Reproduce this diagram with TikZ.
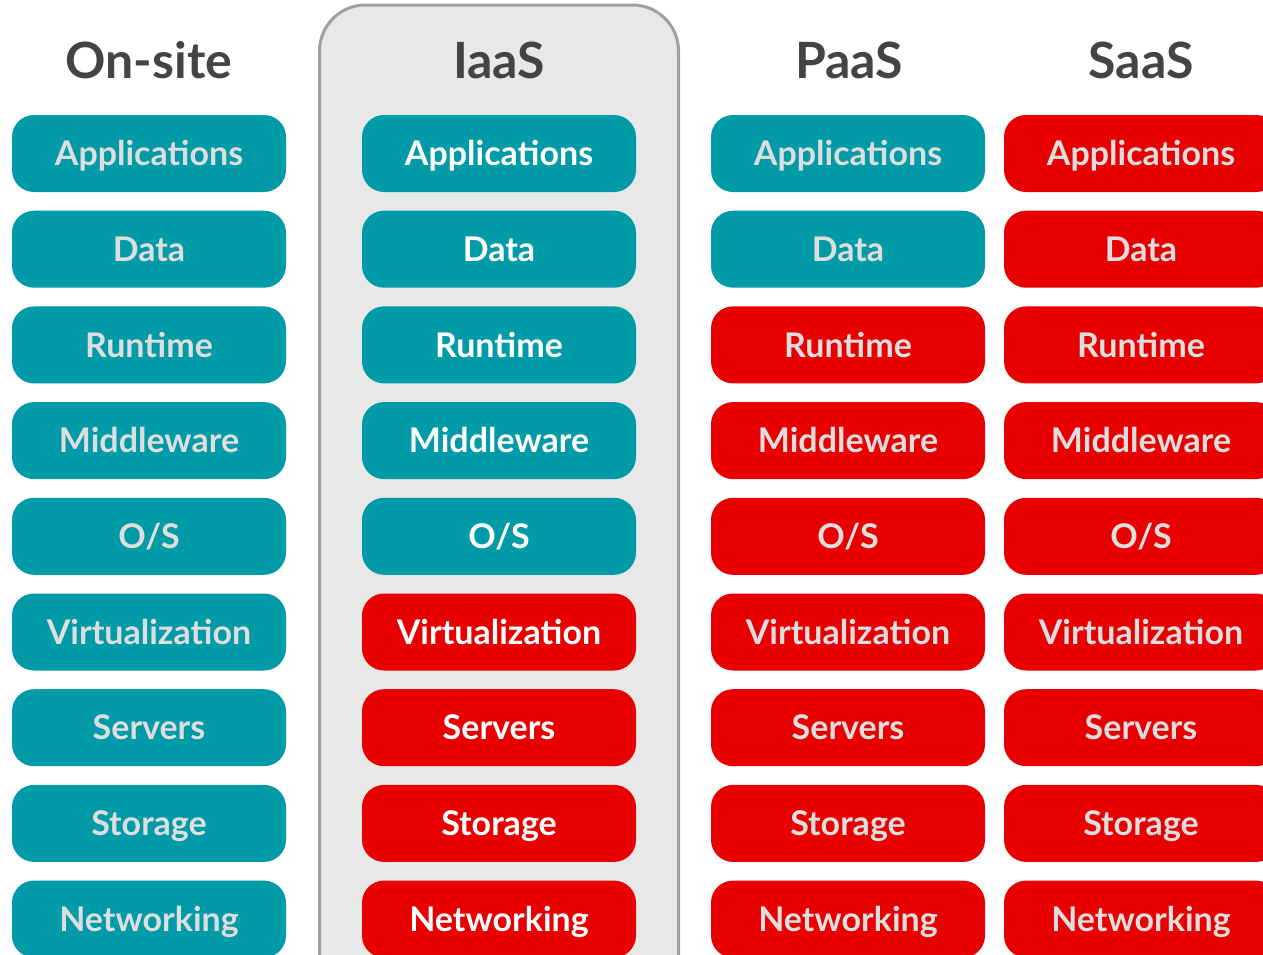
\documentclass[tikz,border=0pt]{standalone}
\usepackage{fontspec}
\setmainfont{Lato}
\definecolor{tealbox}{RGB}{0,155,166}
\definecolor{redbox}{RGB}{232,0,0}
\definecolor{dimtext}{RGB}{222,222,222}
\definecolor{headtext}{RGB}{68,68,68}
\definecolor{panelfill}{RGB}{232,232,232}
\definecolor{panelline}{RGB}{160,160,160}
\tikzset{
  layerbox/.style={rounded corners=22pt, minimum width=274pt, minimum height=77pt,
    inner sep=0pt, font=\fontsize{34}{34}\selectfont\bfseries, text height=24.5pt, text depth=0pt},
  tealfill/.style={layerbox, fill=tealbox},
  redfill/.style={layerbox, fill=redbox},
  heading/.style={font=\fontsize{50}{50}\selectfont\bfseries, text=headtext, text height=36pt, text depth=0pt, inner sep=0pt},
}
\begin{document}
\begin{tikzpicture}[x=1pt,y=-1pt]
\useasboundingbox (0,0) rectangle (1263,954);
\clip (0,0) rectangle (1263,954);
\fill[white] (0,0) rectangle (1263,954);
% IaaS panel
\draw[rounded corners=46pt, fill=panelfill, draw=panelline, line width=3pt] (319.5,5) rectangle (678.5,1010);
% headings
\node[heading] (h-ons) at (149,60) {On-site};
\node[heading] (h-iaas) at (499,60) {IaaS};
\node[heading] (h-paas) at (849,60) {PaaS};
\node[heading] (h-saas) at (1141,60) {SaaS};
% boxes
\foreach \lab [count=\i from 0] in {Applications,Data,Runtime,Middleware,O/S,Virtualization,Servers,Storage,Networking}{
  \pgfmathsetmacro{\yc}{153.5+95.7*\i}
  % On-site: all teal
  \node[tealfill, text=dimtext] (ons-\i) at (149,\yc) {\lab};
  % IaaS: first five teal
  \ifnum\i<5
    \node[tealfill, text=white] (iaas-\i) at (499,\yc) {\lab};
  \else
    \node[redfill, text=white] (iaas-\i) at (499,\yc) {\lab};
  \fi
  % PaaS: first two teal
  \ifnum\i<2
    \node[tealfill, text=dimtext] (paas-\i) at (848,\yc) {\lab};
  \else
    \node[redfill, text=dimtext] (paas-\i) at (848,\yc) {\lab};
  \fi
  % SaaS: all red
  \node[redfill, text=dimtext] (saas-\i) at (1141,\yc) {\lab};
}
\end{tikzpicture}
\end{document}
